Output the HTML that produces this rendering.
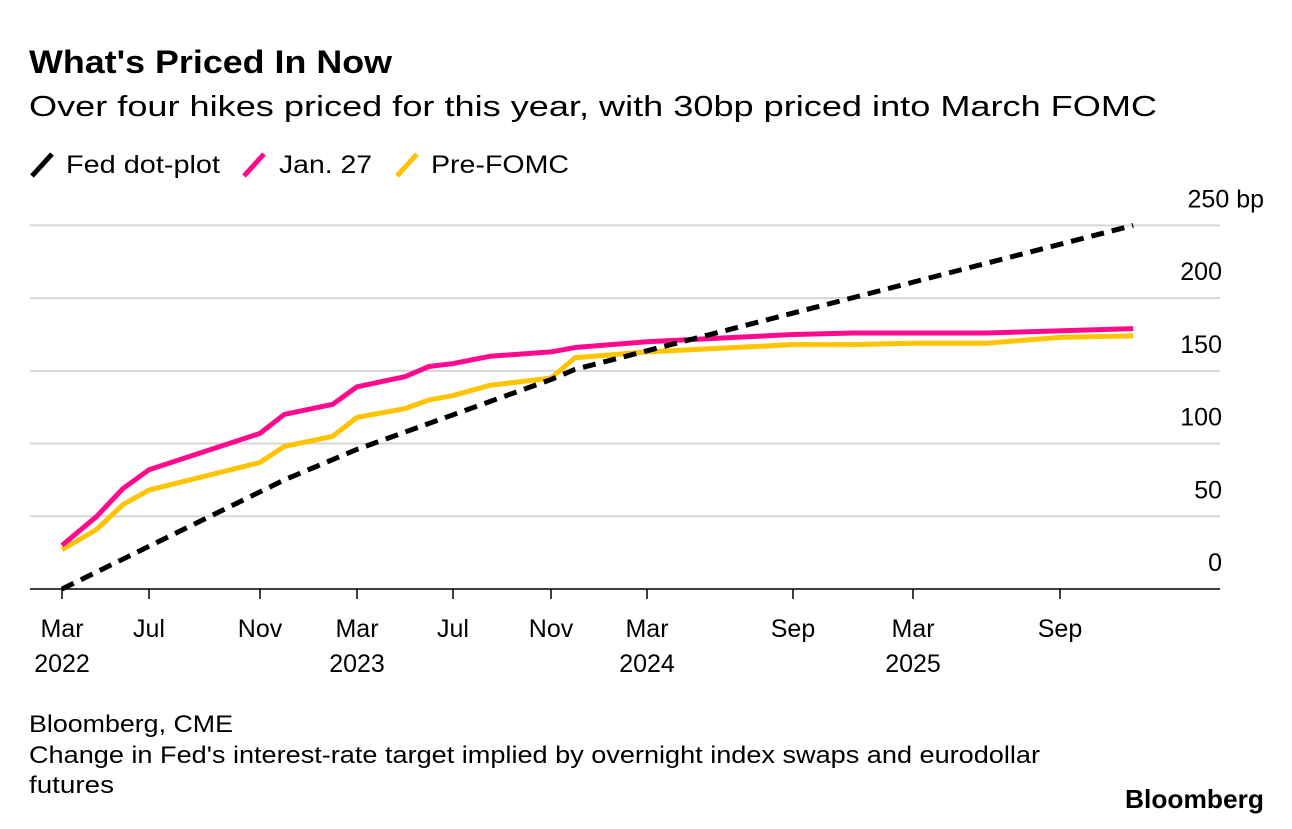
<!DOCTYPE html>
<html><head><meta charset="utf-8"><style>
body{margin:0;background:#fff;width:1292px;height:824px;overflow:hidden;font-family:"Liberation Sans",sans-serif;}
svg text{font-family:"Liberation Sans",sans-serif;}
</style></head><body>
<svg id="chart" width="1292" height="824" xmlns="http://www.w3.org/2000/svg">
<text x="29" y="73" font-size="32" font-weight="bold" fill="#000" textLength="363" lengthAdjust="spacingAndGlyphs">What's Priced In Now</text>
<text x="29" y="116" font-size="29" fill="#000" textLength="1128" lengthAdjust="spacingAndGlyphs">Over four hikes priced for this year, with 30bp priced into March FOMC</text>
<g>
<g><line x1="32" y1="176" x2="52" y2="154" stroke="#000" stroke-width="5"/><text x="66" y="173" font-size="25" textLength="154" lengthAdjust="spacingAndGlyphs">Fed dot-plot</text></g>
<g><line x1="244" y1="176" x2="264" y2="154" stroke="#ff0a8c" stroke-width="5"/><text x="279" y="173" font-size="25" textLength="93" lengthAdjust="spacingAndGlyphs">Jan. 27</text></g>
<g><line x1="397" y1="176" x2="417" y2="154" stroke="#ffc400" stroke-width="5"/><text x="431" y="173" font-size="25" textLength="138" lengthAdjust="spacingAndGlyphs">Pre-FOMC</text></g>
</g>
<g id="grid"></g>
<g id="ylabels"></g>
<g id="xlabels"></g>
<g id="series"></g>
<text x="29" y="732" font-size="24" textLength="204" lengthAdjust="spacingAndGlyphs">Bloomberg, CME</text>
<text x="29" y="763" font-size="24" textLength="1011" lengthAdjust="spacingAndGlyphs">Change in Fed's interest-rate target implied by overnight index swaps and eurodollar</text>
<text x="29" y="793" font-size="24" textLength="85" lengthAdjust="spacingAndGlyphs">futures</text>
<text x="1125" y="808" font-size="26" font-weight="bold" textLength="139" lengthAdjust="spacingAndGlyphs">Bloomberg</text>
</svg>
<script>
// months since Mar 2022
const xTickMonths=[0,4,8,12,16,20,24,30,36,42];
const xTickLabels=["Mar","Jul","Nov","Mar","Jul","Nov","Mar","Sep","Mar","Sep"];
const xTickYears=["2022","","","2023","","","2024","","2025",""];
const yTicks=[0,50,100,150,200,250];
const dotMonths=[0,9,12,20,21,45];
const dotValues=[0,75,96,144,151,250];
const janMonths=[0,1.6,2.8,4,8,9,11,12,14,15,16,17.5,20,21,24,30,33,39,45];
const janValues=[30,50,69,82,107,120,127,139,146,153,155,160,163,166,170,175,176,176,179];
const preMonths=[0,1.6,2.8,4,8,9,11,12,14,15,16,17.5,20,21,24,30,33,36,39,42,45];
const preValues=[27,41,58,68,87,98,105,118,124,130,133,140,145,159,163,168,168,169,169,173,174];
const tickPx=[62,149,260,357,453,551,647,793,913,1060];
function xs(m){
  for(let i=0;i<xTickMonths.length-1;i++){
    if(m<=xTickMonths[i+1]){const a=xTickMonths[i],b=xTickMonths[i+1];return tickPx[i]+(m-a)/(b-a)*(tickPx[i+1]-tickPx[i]);}
  }
  const n=xTickMonths.length-1;return tickPx[n]+(m-xTickMonths[n])*24.4;
}
function ys(v){return 589-v*1.4545;}
const NS="http://www.w3.org/2000/svg";
const grid=document.getElementById('grid'),yl=document.getElementById('ylabels'),xl=document.getElementById('xlabels'),ser=document.getElementById('series');
yTicks.forEach(v=>{
  const l=document.createElementNS(NS,'line');
  
  
  l.setAttribute('x1',30);l.setAttribute('x2',1220);l.setAttribute('y1',ys(v));l.setAttribute('y2',ys(v));
  l.setAttribute('stroke',v===0?'#000':'#d6d6d6');l.setAttribute('stroke-width',v===0?1.5:2);
  grid.appendChild(l);
  const t=document.createElementNS(NS,'text');
  
  
  t.setAttribute('x',1222);t.setAttribute('y',ys(v)-18);t.setAttribute('font-size','25');t.setAttribute('text-anchor','end');
  t.textContent=v===250?'250 bp':String(v);
  if(v===250){t.setAttribute('x',1264);}
  yl.appendChild(t);
});
xTickMonths.forEach((m,i)=>{
  const x=xs(m);
  const tk=document.createElementNS(NS,'line');
  
  
  tk.setAttribute('x1',x);tk.setAttribute('x2',x);tk.setAttribute('y1',589);tk.setAttribute('y2',599);tk.setAttribute('stroke','#000');tk.setAttribute('stroke-width',1.5);
  xl.appendChild(tk);
  const t=document.createElementNS(NS,'text');
  
  
  t.setAttribute('x',x);t.setAttribute('y',637);t.setAttribute('font-size','25');t.setAttribute('text-anchor','middle');
  t.textContent=xTickLabels[i];xl.appendChild(t);
  if(xTickYears[i]){
    const y=document.createElementNS(NS,'text');
    
    
    y.setAttribute('x',x);y.setAttribute('y',672);y.setAttribute('font-size','25');y.setAttribute('text-anchor','middle');
    y.textContent=xTickYears[i];xl.appendChild(y);
  }
});
function line(ms,vs,color,dash,name){
  const p=document.createElementNS(NS,'polyline');
  
  
  p.setAttribute('points',ms.map((m,i)=>xs(m)+','+ys(vs[i])).join(' '));
  p.setAttribute('fill','none');p.setAttribute('stroke',color);p.setAttribute('stroke-width',5);
  p.setAttribute('stroke-linejoin','round');
  if(dash)p.setAttribute('stroke-dasharray',dash);
  ser.appendChild(p);
}
line(preMonths,preValues,'#ffc400',null,'pre-fomc-line');
line(janMonths,janValues,'#ff0a8c',null,'jan-27-line');
line(dotMonths,dotValues,'#000','13 8','fed-dot-plot-line');
</script>
</body></html>
